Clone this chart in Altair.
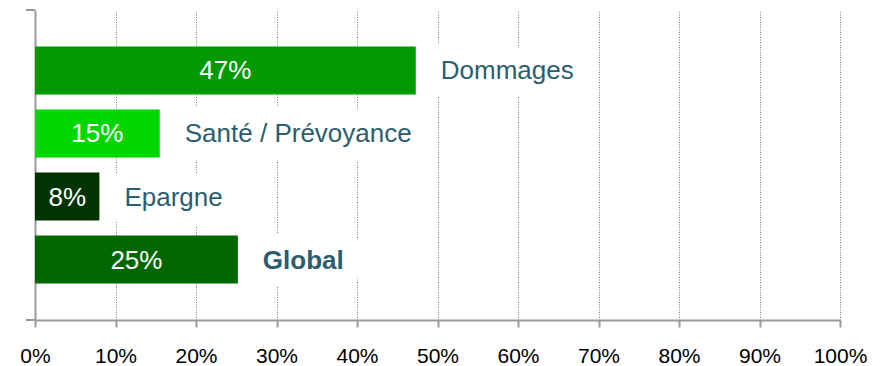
import altair as alt
import pandas as pd

categories = ["Dommages", "Santé / Prévoyance", "Epargne", "Global"]
values = [47.3, 15.5, 8.0, 25.2]
value_labels = ["47%", "15%", "8%", "25%"]
bold_flags = [False, False, False, True]
bar_colors = ["#009900", "#00d600", "#003300", "#006600"]
x_ticks = [0, 10, 20, 30, 40, 50, 60, 70, 80, 90, 100]

df = pd.DataFrame({
    "cat": categories,
    "value": values,
    "vlabel": value_labels,
    "bold": bold_flags,
})

FONT = "Liberation Sans"
TEXT_COLOR = "#2b5e6e"
AXIS_GRAY = "#9a9a9a"

y_enc = alt.Y(
    "cat:N",
    sort=categories,
    scale=alt.Scale(paddingInner=0.24, paddingOuter=0.58),
    axis=alt.Axis(
        title=None, labels=False, ticks=False, grid=False,
        domainColor=AXIS_GRAY, domainWidth=2,
    ),
)
x_enc = alt.X(
    "value:Q",
    scale=alt.Scale(domain=[0, 100], nice=False),
    axis=alt.Axis(
        title=None, values=x_ticks, labelExpr="datum.value + '%'",
        labelFont=FONT, labelFontSize=21, labelColor="#000000",
        labelFlush=False, labelOverlap=False, labelBound=False,
        labelPadding=18, tickSize=7, tickColor=AXIS_GRAY, tickWidth=2,
        domainColor=AXIS_GRAY, domainWidth=2,
        grid=True, gridColor="#7a7a7a", gridDash=[1, 1.5], gridWidth=1,
        gridOpacity=1,
    ),
)

base = alt.Chart(df)

bars = base.mark_bar(cornerRadius=0).encode(
    x=x_enc,
    y=y_enc,
    color=alt.Color("cat:N", sort=categories,
                    scale=alt.Scale(domain=categories, range=bar_colors),
                    legend=None),
)

value_text = base.mark_text(
    font=FONT, fontSize=26, color="white", align="center", baseline="middle", dy=1
).encode(
    x=alt.X("mid:Q"),
    y=alt.Y("cat:N", sort=categories),
    text="vlabel:N",
).transform_calculate(mid="datum.value / 2")


def name_layer(weight, flag, halo):
    kw = dict(font=FONT, fontSize=26, fontWeight=weight, align="left",
              baseline="middle", dx=25, dy=1)
    if halo:
        kw.update(color="white", stroke="white", strokeWidth=36, strokeJoin="round")
    else:
        kw.update(color=TEXT_COLOR)
    return base.transform_filter(
        alt.datum.bold == flag
    ).mark_text(**kw).encode(
        x="value:Q",
        y=alt.Y("cat:N", sort=categories),
        text="cat:N",
    )


halos = name_layer("normal", False, True) + name_layer("bold", True, True)
names = name_layer("normal", False, False) + name_layer("bold", True, False)

tick_top = alt.Chart(df).mark_rule(color=AXIS_GRAY, strokeWidth=2).encode(
    x=alt.value(-9), x2=alt.value(0), y=alt.value(0)
)
tick_bottom = alt.Chart(df).mark_rule(color=AXIS_GRAY, strokeWidth=2).encode(
    x=alt.value(-9), x2=alt.value(0), y=alt.value(310)
)

chart = alt.layer(bars, value_text, halos, names, tick_top, tick_bottom).properties(
    width=805,
    height=310,
    autosize=alt.AutoSizeParams(type="none"),
    padding={"left": 35, "top": 10, "right": 42, "bottom": 46},
    background="white",
).configure_view(stroke=None)

chart.save("out.html", embed_options={"renderer": "svg", "actions": False})
